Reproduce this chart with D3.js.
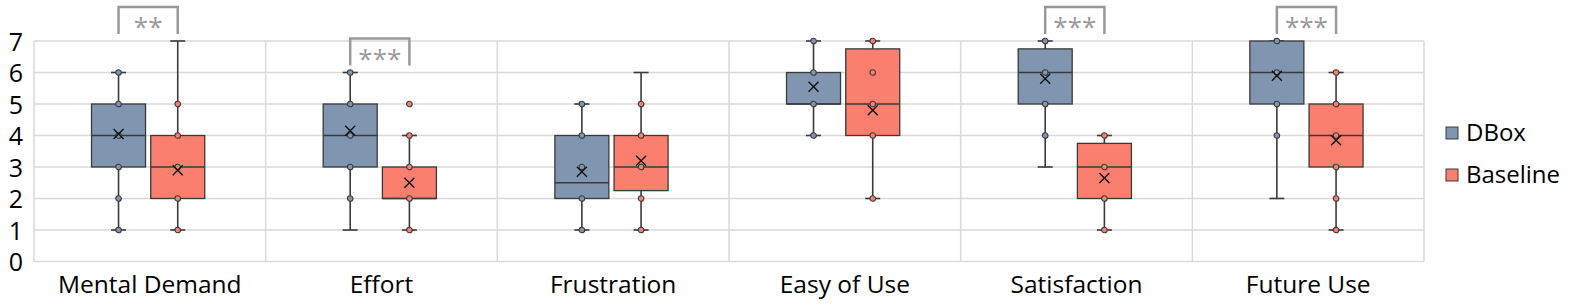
<!DOCTYPE html>
<html>
<head>
<meta charset="utf-8">
<script src="https://cdn.jsdelivr.net/npm/d3@7"></script>
<style>
	body { margin: 0; background: #fff; }
	svg text { font-family: "Open Sans", "Noto Sans", sans-serif; fill: #000; }
</style>
</head>
<body>
<div id="chartDiv"></div>
<script>
;(function() {

	const COLORS = {
		DBOX: '#8096b0',
		BASELINE: '#fa7f6f',
		STROKE: '#3a3a3a',
		GRID: '#d9d9d9',
		SIG: '#999999',
	};

	// data
	var categories = ["Mental Demand", "Effort", "Frustration", "Easy of Use", "Satisfaction", "Future Use"];
	var series = ["DBox", "Baseline"];
	var yTicks = [0, 1, 2, 3, 4, 5, 6, 7];

	// [whisker low, q1, median, q3, whisker high]
	var dboxBox = [[1, 3, 4, 5, 6], [1, 3, 4, 5, 6], [1, 2, 2.5, 4, 5], [4, 5, 5, 6, 7], [3, 5, 6, 6.75, 7], [2, 5, 6, 7, 7]];
	var dboxMean = [4.05, 4.15, 2.85, 5.55, 5.8, 5.9];
	var dboxPoints = [[1, 2, 3, 4, 5, 6], [2, 3, 4, 5, 6], [1, 2, 3, 4, 5], [4, 5, 6, 7], [4, 5, 6, 7], [4, 5, 6, 7]];

	var baselineBox = [[1, 2, 3, 4, 7], [1, 2, 2, 3, 4], [1, 2.25, 3, 4, 6], [2, 4, 5, 6.75, 7], [1, 2, 3, 3.75, 4], [1, 3, 4, 5, 6]];
	var baselineMean = [2.9, 2.5, 3.2, 4.8, 2.65, 3.85];
	var baselinePoints = [[1, 2, 3, 4, 5], [1, 2, 3, 4, 5], [1, 2, 3, 4, 5], [2, 4, 5, 6, 7], [1, 2, 3, 4], [1, 2, 3, 4, 5, 6]];

	var significance = ["**", "***", "", "", "***", "***"];

	var width = 1578;
	var height = 307;
	var plot = { left: 34, right: 1424, top: 41, bottom: 261.5 };
	var capWidth = 15;
	var pointRadius = 2.8;
	var meanSize = 5;

	var chart;

	init();

	function init() {
		chart = d3.select("#chartDiv").append("svg")
			.attr("width", width)
			.attr("height", height);

		chart.xScale = d3.scaleBand()
			.domain(categories)
			.range([plot.left, plot.right]);

		chart.seriesScale = d3.scaleBand()
			.domain(series)
			.range([-58.3, 54.9])
			.paddingInner(0.088);

		chart.yScale = d3.scaleLinear()
			.domain([0, 7])
			.range([plot.bottom, plot.top]);

		drawGrid();
		drawAxes();

		var groups = [];
		categories.forEach(function(c, i) {
			groups.push({ cat: c, s: "DBox", box: dboxBox[i], mean: dboxMean[i], points: dboxPoints[i], color: COLORS.DBOX });
			groups.push({ cat: c, s: "Baseline", box: baselineBox[i], mean: baselineMean[i], points: baselinePoints[i], color: COLORS.BASELINE });
		});
		drawBoxes(groups);
		drawSignificance();
		drawLegend();
	}

	function drawGrid() {
		var grid = chart.append("g").attr("class", "grid");

		grid.selectAll(".hgrid")
			.data(yTicks)
			.enter().append("line")
				.attr("x1", plot.left)
				.attr("x2", plot.right)
				.attr("y1", d => chart.yScale(d))
				.attr("y2", d => chart.yScale(d))
				.attr("stroke", COLORS.GRID)
				.attr("stroke-width", 1.5);

		var edges = categories.map(c => chart.xScale(c)).concat([plot.right]);
		grid.selectAll(".vgrid")
			.data(edges)
			.enter().append("line")
				.attr("x1", d => d)
				.attr("x2", d => d)
				.attr("y1", plot.top)
				.attr("y2", plot.bottom)
				.attr("stroke", COLORS.GRID)
				.attr("stroke-width", 1.5);
	}

	function drawAxes() {
		var yAxis = d3.axisLeft(chart.yScale)
			.tickValues(yTicks)
			.tickFormat(d3.format("d"))
			.tickSize(0)
			.tickPadding(11);

		chart.append("g")
			.attr("transform", "translate(" + plot.left + ",0)")
			.call(yAxis)
			.call(g => g.select(".domain").remove())
			.selectAll("text")
				.style("font-size", "25px")
				.attr("dy", "0.36em");

		var xAxis = d3.axisBottom(chart.xScale)
			.tickSize(0)
			.tickPadding(14);

		chart.append("g")
			.attr("transform", "translate(0," + plot.bottom + ")")
			.call(xAxis)
			.call(g => g.select(".domain").remove())
			.selectAll("text")
				.style("font-size", "24.5px");
	}

	function drawBoxes(groups) {
		var y = chart.yScale;
		var bw = chart.seriesScale.bandwidth();

		var g = chart.append("g").selectAll(".boxGroup")
			.data(groups)
			.enter().append("g")
				.attr("class", "boxGroup")
				.attr("transform", d => "translate(" + (chart.xScale(d.cat) + chart.xScale.bandwidth() / 2 + chart.seriesScale(d.s) + bw / 2) + ",0)");

		// whiskers
		g.append("line")
			.attr("x1", 0).attr("x2", 0)
			.attr("y1", d => y(d.box[0])).attr("y2", d => y(d.box[1]))
			.attr("stroke", COLORS.STROKE).attr("stroke-width", 1.6);
		g.append("line")
			.attr("x1", 0).attr("x2", 0)
			.attr("y1", d => y(d.box[3])).attr("y2", d => y(d.box[4]))
			.attr("stroke", COLORS.STROKE).attr("stroke-width", 1.6);
		// caps
		g.selectAll(".cap")
			.data(d => [d.box[0], d.box[4]])
			.enter().append("line")
				.attr("x1", -capWidth / 2).attr("x2", capWidth / 2)
				.attr("y1", v => y(v)).attr("y2", v => y(v))
				.attr("stroke", COLORS.STROKE).attr("stroke-width", 1.6);

		// box
		g.append("rect")
			.attr("x", -bw / 2)
			.attr("width", bw)
			.attr("y", d => y(d.box[3]))
			.attr("height", d => y(d.box[1]) - y(d.box[3]))
			.attr("fill", d => d.color)
			.attr("stroke", COLORS.STROKE)
			.attr("stroke-width", 1.3);

		// median
		g.append("line")
			.attr("x1", -bw / 2).attr("x2", bw / 2)
			.attr("y1", d => y(d.box[2])).attr("y2", d => y(d.box[2]))
			.attr("stroke", COLORS.STROKE).attr("stroke-width", 1.3);

		// points
		g.each(function(d) {
			d3.select(this).selectAll(".pt")
				.data(d.points)
				.enter().append("circle")
					.attr("class", "pt")
					.attr("cx", 0)
					.attr("cy", v => y(v))
					.attr("r", pointRadius)
					.attr("fill", d.color)
					.attr("stroke", COLORS.STROKE)
					.attr("stroke-width", 1.1);
		});

		// mean marker
		g.append("path")
			.attr("d", d => {
				var my = y(d.mean), s = meanSize;
				return "M" + (-s) + "," + (my - s) + "L" + s + "," + (my + s) + "M" + s + "," + (my - s) + "L" + (-s) + "," + (my + s);
			})
			.attr("stroke", "#111")
			.attr("stroke-width", 1.4)
			.attr("fill", "none");
	}

	function drawSignificance() {
		var bw = chart.seriesScale.bandwidth();
		var sig = categories.map((c, i) => ({ cat: c, label: significance[i], top: Math.max(dboxBox[i][4], baselineBox[i][4]) }))
			.filter(d => d.label !== "");

		var g = chart.append("g").selectAll(".sig")
			.data(sig)
			.enter().append("g")
				.attr("class", "sig");

		g.append("path")
			.attr("d", d => {
				var cx = chart.xScale(d.cat) + chart.xScale.bandwidth() / 2;
				var x1 = cx + chart.seriesScale("DBox") + bw / 2;
				var x2 = cx + chart.seriesScale("Baseline") + bw / 2;
				var yb = chart.yScale(d.top) - 7;
				var yt = yb - 27;
				return "M" + x1 + "," + yb + "V" + yt + "H" + x2 + "V" + yb;
			})
			.attr("fill", "none")
			.attr("stroke", COLORS.SIG)
			.attr("stroke-width", 2.5);

		g.append("text")
			.attr("x", d => chart.xScale(d.cat) + chart.xScale.bandwidth() / 2 + (chart.seriesScale("DBox") + chart.seriesScale("Baseline") + bw) / 2)
			.attr("y", d => chart.yScale(d.top) - 5)
			.attr("text-anchor", "middle")
			.style("font-size", "26px")
			.style("fill", COLORS.SIG)
			.text(d => d.label);
	}

	function drawLegend() {
		var colorOf = { "DBox": COLORS.DBOX, "Baseline": COLORS.BASELINE };
		var legend = chart.append("g")
			.attr("transform", "translate(1446,133)");

		var item = legend.selectAll(".legendItem")
			.data(series)
			.enter().append("g")
				.attr("class", "legendItem")
				.attr("transform", (d, i) => "translate(0," + (i * 42) + ")");

		item.append("rect")
			.attr("x", 0)
			.attr("y", -6)
			.attr("width", 12)
			.attr("height", 12)
			.attr("fill", d => colorOf[d])
			.attr("stroke", COLORS.STROKE)
			.attr("stroke-width", 1);

		item.append("text")
			.attr("x", 20)
			.attr("dy", "0.35em")
			.style("font-size", "24px")
			.text(d => d);
	}
})();
</script>
</body>
</html>
